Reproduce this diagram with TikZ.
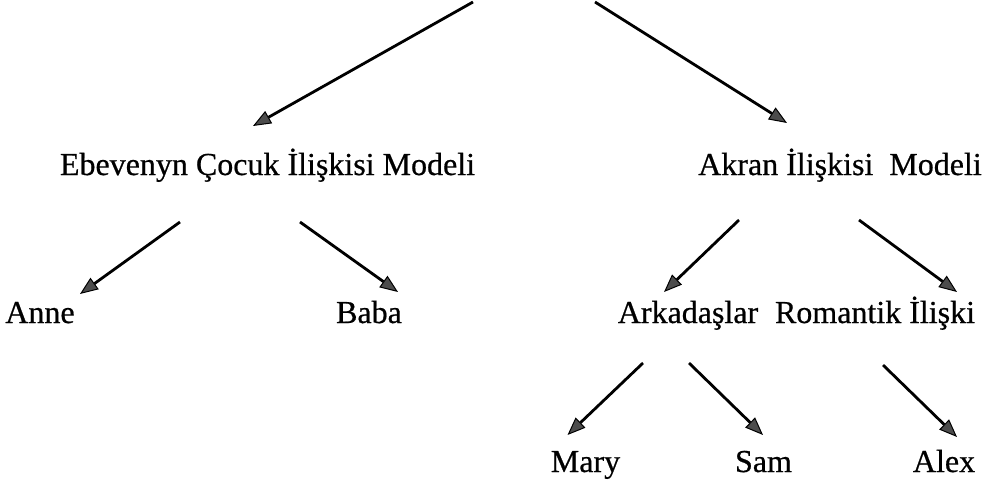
\documentclass[tikz,border=0pt]{standalone}
\usepackage{fontspec}
\setmainfont{Liberation Serif}[FakeBold=0.6]
\usetikzlibrary{arrows.meta,calc}
\tikzset{
  lbl/.style={anchor=base, inner sep=0pt, font=\fontsize{32}{38}\selectfont},
  arr/.style={line width=2.8pt, -{Triangle[length=18pt,width=14pt,line width=1pt,fill=black!70]}}
}
\begin{document}
\begin{tikzpicture}[x=1pt,y=-1pt]
\useasboundingbox (0,0) rectangle (987,485);
\node[lbl] (ebev) at (267.5,175) {Ebevenyn Çocuk İlişkisi Modeli};
\node[lbl] (akran) at (840,175) {Akran İlişkisi\ \ Modeli};
\node[lbl] (anne) at (40,323) {Anne};
\node[lbl] (baba) at (369,323) {Baba};
\node[lbl] (ark) at (688,323) {Arkadaşlar};
\node[lbl] (rom) at (875,323) {Romantik İlişki};
\node[lbl] (mary) at (585.5,472) {Mary};
\node[lbl] (sam) at (763.5,472) {Sam};
\node[lbl] (alex) at (944,472) {Alex};
\coordinate (top1) at (473,2);
\coordinate (top2) at (595,2);
\draw[arr] (top1) -- ($(ebev.base)+(-14.5,-49)$);
\draw[arr] (top2) -- ($(akran.base)+(-53,-52)$);
\draw[arr] ($(ebev.base)+(-87.5,47)$) -- ($(anne.base)+(40,-29)$);
\draw[arr] ($(ebev.base)+(32.5,47)$) -- ($(baba.base)+(29,-31)$);
\draw[arr] ($(akran.base)+(-101,45)$) -- ($(ark.base)+(-24,-31)$);
\draw[arr] ($(akran.base)+(19,45)$) -- ($(rom.base)+(82,-31)$);
\draw[arr] ($(ark.base)+(-45,40)$) -- ($(mary.base)+(-18,-37)$);
\draw[arr] ($(ark.base)+(1,40)$) -- ($(sam.base)+(-0.5,-37)$);
\draw[arr] ($(rom.base)+(8,42)$) -- ($(alex.base)+(13,-35)$);
\end{tikzpicture}
\end{document}
